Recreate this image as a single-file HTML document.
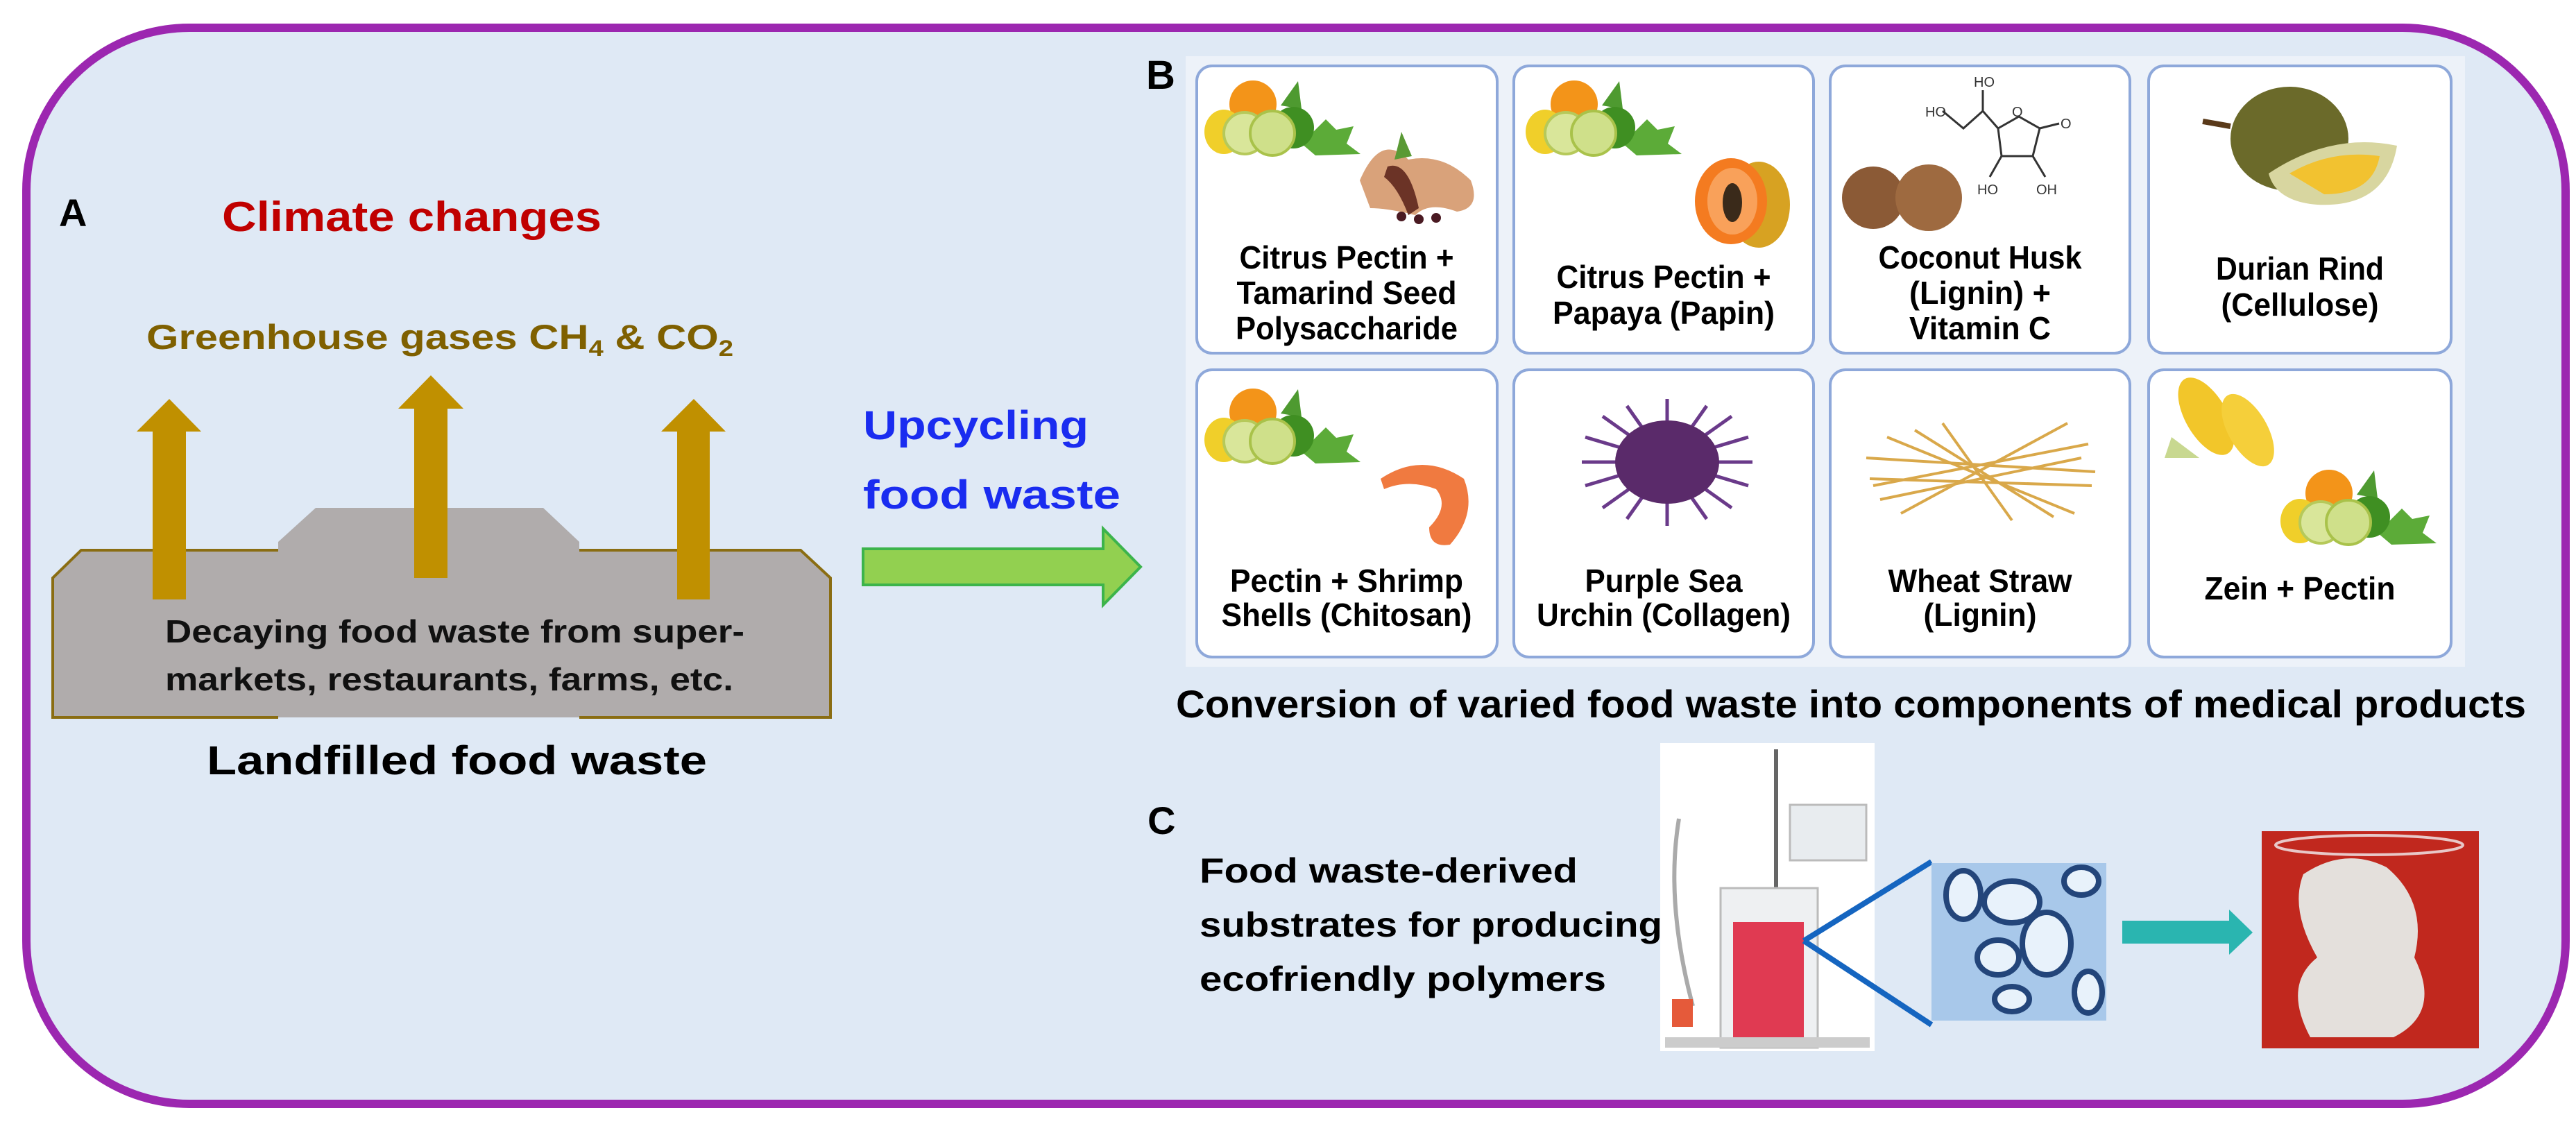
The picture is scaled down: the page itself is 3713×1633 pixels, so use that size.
<!DOCTYPE html>
<html><head><meta charset="utf-8"><style>
html,body{margin:0;padding:0;background:#fff;}
svg{display:block;}
text{font-family:"Liberation Sans",sans-serif;font-weight:bold;}
.n{font-family:"Liberation Sans Narrow","Liberation Sans",sans-serif;}
</style></head><body>
<svg width="3713" height="1633" viewBox="0 0 3713 1633" xmlns="http://www.w3.org/2000/svg">
<defs>
<g id="citrus">
  <path d="M140 95 L175 60 L190 75 L215 70 L205 95 L225 110 L160 112 Z" fill="#5cab38"/>
  <path d="M110 40 L135 5 L140 45 Z" fill="#4e9a30"/>
  <circle cx="70" cy="38" r="34" fill="#f39419"/>
  <ellipse cx="28" cy="78" rx="28" ry="32" fill="#f0cf2a"/>
  <circle cx="128" cy="72" r="30" fill="#3f8f22"/>
  <circle cx="58" cy="80" r="30" fill="#d9e69a" stroke="#b6c95a" stroke-width="4"/>
  <circle cx="98" cy="80" r="32" fill="#cfe08a" stroke="#a9c24a" stroke-width="4"/>
</g>
</defs>
<!-- frame -->
<rect x="38" y="40" width="3660" height="1551" rx="235" ry="235" fill="#dfe9f5" stroke="#9c27b0" stroke-width="12"/>

<!-- Panel A -->
<text x="85" y="326" font-size="56" fill="#000">A</text>
<text x="320" y="333" font-size="60" fill="#c00000" textLength="547" lengthAdjust="spacingAndGlyphs">Climate changes</text>
<text x="211" y="503" font-size="50" fill="#7f6000" textLength="846" lengthAdjust="spacingAndGlyphs">Greenhouse gases CH<tspan font-size="32" dy="10">4</tspan><tspan dy="-10"> &amp; CO</tspan><tspan font-size="32" dy="10">2</tspan></text>

<!-- landfill -->
<polygon points="76,1034 76,833 117,793 401,793 401,781 455,732 783,732 835,781 835,793 1154,793 1197,833 1197,1034" fill="#b0acac"/>
<polyline points="401,1034 76,1034 76,833 117,793 401,793" fill="none" stroke="#8a6d12" stroke-width="4"/>
<polyline points="835,793 1154,793 1197,833 1197,1034 835,1034" fill="none" stroke="#8a6d12" stroke-width="4"/>
<!-- gold arrows -->
<g fill="#c09000">
<polygon points="220,864 220,622 197,622 244,575 290,622 268,622 268,864"/>
<polygon points="597,833 597,589 574,589 621,541 668,589 645,589 645,833"/>
<polygon points="976,864 976,622 953,622 1000,575 1046,622 1023,622 1023,864"/>
</g>
<text x="238" y="926" font-size="46" fill="#111" textLength="835" lengthAdjust="spacingAndGlyphs">Decaying food waste from super-</text>
<text x="238" y="995" font-size="46" fill="#111" textLength="819" lengthAdjust="spacingAndGlyphs">markets, restaurants, farms, etc.</text>
<text x="298" y="1116" font-size="58" fill="#000" textLength="721" lengthAdjust="spacingAndGlyphs">Landfilled food waste</text>

<text x="1244" y="633" font-size="58" fill="#1a2cf0" textLength="325" lengthAdjust="spacingAndGlyphs">Upcycling</text>
<text x="1244" y="733" font-size="58" fill="#1a2cf0" textLength="371" lengthAdjust="spacingAndGlyphs">food waste</text>
<polygon points="1244,791 1590,791 1590,762 1644,817 1590,872 1590,843 1244,843" fill="#92d050" stroke="#3cb44b" stroke-width="4"/>

<!-- Panel B -->
<text x="1652" y="128" font-size="58" fill="#000">B</text>
<rect x="1709" y="81" width="1844" height="880" fill="#edf2f9"/>
<g fill="#fff" stroke="#8ea8da" stroke-width="4">
<rect x="1725" y="95" width="433" height="414" rx="22"/>
<rect x="2182" y="95" width="432" height="414" rx="22"/>
<rect x="2638" y="95" width="432" height="414" rx="22"/>
<rect x="3097" y="95" width="436" height="414" rx="22"/>
<rect x="1725" y="533" width="433" height="414" rx="22"/>
<rect x="2182" y="533" width="432" height="414" rx="22"/>
<rect x="2638" y="533" width="432" height="414" rx="22"/>
<rect x="3097" y="533" width="436" height="414" rx="22"/>
</g>
<!-- card images -->
<use href="#citrus" x="1736" y="112"/>
<g>
  <path d="M1960 260 Q1990 190 2030 230 Q2080 220 2120 260 Q2135 300 2100 305 Q2060 290 2040 310 Q2000 300 1975 300 Z" fill="#d9a27a"/>
  <path d="M2000 240 Q2030 230 2045 300 L2030 310 Q2015 270 1995 255 Z" fill="#6b3326"/>
  <path d="M2010 230 L2020 190 L2035 225 Z" fill="#5a9a35"/>
  <circle cx="2020" cy="312" r="7" fill="#4a1a22"/><circle cx="2045" cy="316" r="7" fill="#4a1a22"/><circle cx="2070" cy="314" r="7" fill="#4a1a22"/>
</g>
<use href="#citrus" x="2199" y="112"/>
<g>
  <ellipse cx="2535" cy="295" rx="45" ry="62" fill="#d7a222"/>
  <ellipse cx="2495" cy="290" rx="52" ry="62" fill="#f47b20"/>
  <ellipse cx="2497" cy="290" rx="36" ry="48" fill="#f9a15a"/>
  <ellipse cx="2497" cy="292" rx="14" ry="28" fill="#3a2a1a"/>
</g>
<g fill="none" stroke="#333" stroke-width="3">
  <polyline points="2800,160 2830,185 2858,160 2880,185"/>
  <line x1="2858" y1="160" x2="2858" y2="130"/>
  <polyline points="2880,185 2910,168 2940,185 2930,225 2885,225 2880,185"/>
  <line x1="2940" y1="185" x2="2968" y2="178"/>
  <line x1="2885" y1="225" x2="2868" y2="255"/><line x1="2930" y1="225" x2="2948" y2="255"/>
</g>
<g font-size="20" fill="#333" font-weight="normal">
<text x="2845" y="125" style="font-weight:normal">HO</text><text x="2775" y="168" style="font-weight:normal">HO</text>
<text x="2970" y="185" style="font-weight:normal">O</text><text x="2900" y="168" style="font-weight:normal">O</text>
<text x="2850" y="280" style="font-weight:normal">HO</text><text x="2935" y="280" style="font-weight:normal">OH</text>
</g>
<circle cx="2700" cy="285" r="45" fill="#8b5a36"/><circle cx="2780" cy="285" r="48" fill="#9e6a40"/>
<g>
  <line x1="3175" y1="175" x2="3215" y2="182" stroke="#5a3a1a" stroke-width="8"/>
  <ellipse cx="3300" cy="200" rx="85" ry="75" fill="#6b6a2a"/>
  <path d="M3270 250 Q3360 190 3455 210 Q3440 300 3340 295 Q3280 290 3270 250 Z" fill="#d8d6a0"/>
  <path d="M3300 250 Q3360 215 3430 225 Q3420 280 3350 280 Z" fill="#f2c230"/>
</g>
<use href="#citrus" x="1736" y="556"/>
<path d="M1990 690 Q2050 650 2110 690 Q2130 740 2090 785 Q2060 790 2060 760 Q2090 730 2070 705 Q2030 690 1995 705 Z" fill="#f07a40"/>
<g stroke="#6a3a8a" stroke-width="5">
  <line x1="2280" y1="666" x2="2526" y2="666"/><line x1="2403" y1="575" x2="2403" y2="758"/>
  <line x1="2310" y1="600" x2="2496" y2="732"/><line x1="2310" y1="732" x2="2496" y2="600"/>
  <line x1="2345" y1="585" x2="2460" y2="748"/><line x1="2345" y1="748" x2="2460" y2="585"/>
  <line x1="2285" y1="630" x2="2520" y2="700"/><line x1="2285" y1="700" x2="2520" y2="630"/>
</g>
<ellipse cx="2403" cy="666" rx="75" ry="60" fill="#5a2a6a"/>
<g stroke="#d9a84a" stroke-width="4">
  <line x1="2690" y1="660" x2="3020" y2="680"/><line x1="2700" y1="700" x2="3010" y2="640"/>
  <line x1="2720" y1="630" x2="2990" y2="740"/><line x1="2740" y1="740" x2="2980" y2="610"/>
  <line x1="2695" y1="690" x2="3015" y2="700"/><line x1="2760" y1="620" x2="2960" y2="745"/>
  <line x1="2710" y1="720" x2="3000" y2="660"/><line x1="2800" y1="610" x2="2900" y2="750"/>
</g>
<g>
  <ellipse cx="3180" cy="600" rx="30" ry="62" transform="rotate(-30 3180 600)" fill="#f2c62a"/>
  <ellipse cx="3240" cy="620" rx="28" ry="58" transform="rotate(-30 3240 620)" fill="#f5cf3a"/>
  <path d="M3130 630 L3170 660 L3120 660 Z" fill="#c8d890"/>
</g>
<use href="#citrus" x="3287" y="673"/>

<!-- card labels -->
<g class="n" font-size="46" fill="#000" text-anchor="middle">
<text class="n" x="1941" y="387" textLength="309" lengthAdjust="spacingAndGlyphs">Citrus Pectin +</text>
<text class="n" x="1941" y="438" textLength="317" lengthAdjust="spacingAndGlyphs">Tamarind Seed</text>
<text class="n" x="1941" y="489" textLength="320" lengthAdjust="spacingAndGlyphs">Polysaccharide</text>
<text class="n" x="2398" y="415" textLength="309" lengthAdjust="spacingAndGlyphs">Citrus Pectin +</text>
<text class="n" x="2398" y="467" textLength="320" lengthAdjust="spacingAndGlyphs">Papaya (Papin)</text>
<text class="n" x="2854" y="387" textLength="293" lengthAdjust="spacingAndGlyphs">Coconut Husk</text>
<text class="n" x="2854" y="438" textLength="204" lengthAdjust="spacingAndGlyphs">(Lignin) +</text>
<text class="n" x="2854" y="489" textLength="204" lengthAdjust="spacingAndGlyphs">Vitamin C</text>
<text class="n" x="3315" y="403" textLength="242" lengthAdjust="spacingAndGlyphs">Durian Rind</text>
<text class="n" x="3315" y="455" textLength="227" lengthAdjust="spacingAndGlyphs">(Cellulose)</text>
<text class="n" x="1941" y="853" textLength="336" lengthAdjust="spacingAndGlyphs">Pectin + Shrimp</text>
<text class="n" x="1941" y="902" textLength="361" lengthAdjust="spacingAndGlyphs">Shells (Chitosan)</text>
<text class="n" x="2398" y="853" textLength="227" lengthAdjust="spacingAndGlyphs">Purple Sea</text>
<text class="n" x="2398" y="902" textLength="366" lengthAdjust="spacingAndGlyphs">Urchin (Collagen)</text>
<text class="n" x="2854" y="853" textLength="265" lengthAdjust="spacingAndGlyphs">Wheat Straw</text>
<text class="n" x="2854" y="902" textLength="163" lengthAdjust="spacingAndGlyphs">(Lignin)</text>
<text class="n" x="3315" y="864" textLength="275" lengthAdjust="spacingAndGlyphs">Zein + Pectin</text>
</g>
<text class="n" x="1695" y="1034" font-size="56" fill="#000" textLength="1946" lengthAdjust="spacingAndGlyphs">Conversion of varied food waste into components of medical products</text>

<!-- Panel C -->
<text class="n" x="1654" y="1202" font-size="56" fill="#000">C</text>
<text class="n" x="1729" y="1272" font-size="50" fill="#000" textLength="545" lengthAdjust="spacingAndGlyphs">Food waste-derived</text>
<text class="n" x="1729" y="1350" font-size="50" fill="#000" textLength="667" lengthAdjust="spacingAndGlyphs">substrates for producing</text>
<text class="n" x="1729" y="1428" font-size="50" fill="#000" textLength="586" lengthAdjust="spacingAndGlyphs">ecofriendly polymers</text>

<rect x="2393" y="1071" width="309" height="444" fill="#fff"/>
<rect x="2580" y="1160" width="110" height="80" fill="#e8ecef" stroke="#bbb" stroke-width="3"/>
<line x1="2560" y1="1080" x2="2560" y2="1330" stroke="#666" stroke-width="6"/>
<path d="M2420 1180 Q2400 1300 2440 1450" fill="none" stroke="#aaa" stroke-width="6"/>
<rect x="2480" y="1280" width="140" height="230" fill="#eef0f2" stroke="#bbb" stroke-width="3"/>
<rect x="2498" y="1329" width="102" height="174" fill="#e03a52"/>
<rect x="2410" y="1440" width="30" height="40" fill="#e55a3a"/>
<rect x="2400" y="1495" width="295" height="15" fill="#ccc"/>

<line x1="2600" y1="1356" x2="2784" y2="1242" stroke="#1565c0" stroke-width="8"/>
<line x1="2600" y1="1356" x2="2784" y2="1477" stroke="#1565c0" stroke-width="8"/>
<rect x="2784" y="1244" width="252" height="227" fill="#a8c8ea"/>
<g fill="#e8f2fb" stroke="#23457a" stroke-width="8">
<ellipse cx="2830" cy="1290" rx="25" ry="35"/><ellipse cx="2900" cy="1300" rx="40" ry="30"/>
<ellipse cx="2950" cy="1360" rx="35" ry="45"/><ellipse cx="2880" cy="1380" rx="30" ry="25"/>
<ellipse cx="3000" cy="1270" rx="25" ry="20"/><ellipse cx="3010" cy="1430" rx="20" ry="30"/>
<ellipse cx="2900" cy="1440" rx="25" ry="18"/>
</g>
<polygon points="3059,1327 3213,1327 3213,1311 3247,1344 3213,1376 3213,1360 3059,1360" fill="#2ab5b0"/>
<rect x="3260" y="1198" width="313" height="313" fill="#c1281e"/>
<path d="M3320 1260 Q3380 1220 3440 1250 Q3500 1300 3480 1380 Q3520 1460 3450 1495 L3330 1495 Q3290 1420 3340 1380 Q3300 1310 3320 1260 Z" fill="#e4e0dc"/>
<ellipse cx="3415" cy="1218" rx="135" ry="14" fill="none" stroke="#e8c8c8" stroke-width="4"/>
</svg>
</body></html>
